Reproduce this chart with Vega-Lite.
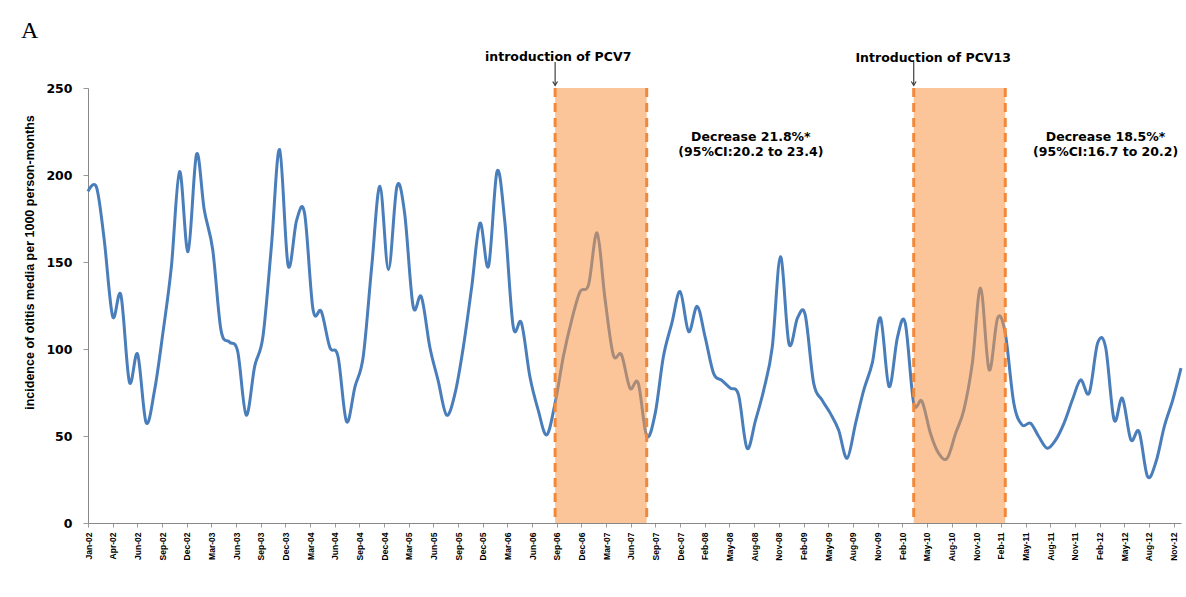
{
  "$schema": "https://vega.github.io/schema/vega-lite/v6.json",
  "autosize": {"type": "none"},
  "padding": {"left": 88, "top": 88, "right": 5, "bottom": 74},
  "width": 1093,
  "height": 435,
  "background": "white",
  "config": {"view": {"stroke": null}, "axis": {"grid": false}, "axisX": {"labelOverlap": false, "tickCount": 200}},
  "title": {"text": "A", "anchor": "start", "frame": "group", "font": "Liberation Serif", "fontSize": 24, "fontWeight": "normal", "color": "black", "offset": 8, "dx": -67},
  "datasets": {
    "series": [
      {"date":"2002-01-01","v":190.6},{"date":"2002-02-01","v":193},{"date":"2002-03-01","v":163},{"date":"2002-04-01","v":118.7},{"date":"2002-05-01","v":131},{"date":"2002-06-01","v":81},{"date":"2002-07-01","v":97},{"date":"2002-08-01","v":57.7},{"date":"2002-09-01","v":76.5},{"date":"2002-10-01","v":109},{"date":"2002-11-01","v":147},{"date":"2002-12-01","v":202},
      {"date":"2003-01-01","v":156},{"date":"2003-02-01","v":212},{"date":"2003-03-01","v":180},{"date":"2003-04-01","v":157},{"date":"2003-05-01","v":111},{"date":"2003-06-01","v":104},{"date":"2003-07-01","v":98.6},{"date":"2003-08-01","v":62},{"date":"2003-09-01","v":90},{"date":"2003-10-01","v":107},{"date":"2003-11-01","v":159},{"date":"2003-12-01","v":214.6},
      {"date":"2004-01-01","v":148},{"date":"2004-02-01","v":174},{"date":"2004-03-01","v":178},{"date":"2004-04-01","v":122.5},{"date":"2004-05-01","v":121.6},{"date":"2004-06-01","v":101},{"date":"2004-07-01","v":95.7},{"date":"2004-08-01","v":58.3},{"date":"2004-09-01","v":78.4},{"date":"2004-10-01","v":95.7},{"date":"2004-11-01","v":147.5},{"date":"2004-12-01","v":193.5},
      {"date":"2005-01-01","v":145.6},{"date":"2005-02-01","v":193.5},{"date":"2005-03-01","v":178},{"date":"2005-04-01","v":124.5},{"date":"2005-05-01","v":130},{"date":"2005-06-01","v":101},{"date":"2005-07-01","v":82},{"date":"2005-08-01","v":62},{"date":"2005-09-01","v":74.6},{"date":"2005-10-01","v":101},{"date":"2005-11-01","v":136},{"date":"2005-12-01","v":172.4},
      {"date":"2006-01-01","v":147.5},{"date":"2006-02-01","v":202},{"date":"2006-03-01","v":174},{"date":"2006-04-01","v":113},{"date":"2006-05-01","v":115},{"date":"2006-06-01","v":84},{"date":"2006-07-01","v":65},{"date":"2006-08-01","v":50.6},{"date":"2006-09-01","v":69},{"date":"2006-10-01","v":95.7},{"date":"2006-11-01","v":117},{"date":"2006-12-01","v":133},
      {"date":"2007-01-01","v":137},{"date":"2007-02-01","v":166.7},{"date":"2007-03-01","v":130},{"date":"2007-04-01","v":96.7},{"date":"2007-05-01","v":96.7},{"date":"2007-06-01","v":77.5},{"date":"2007-07-01","v":80.4},{"date":"2007-08-01","v":50},{"date":"2007-09-01","v":63},{"date":"2007-10-01","v":95.7},{"date":"2007-11-01","v":115},{"date":"2007-12-01","v":133},
      {"date":"2008-01-01","v":110},{"date":"2008-02-01","v":124.5},{"date":"2008-03-01","v":107},{"date":"2008-04-01","v":86},{"date":"2008-05-01","v":82},{"date":"2008-06-01","v":77.5},{"date":"2008-07-01","v":73.6},{"date":"2008-08-01","v":43},{"date":"2008-09-01","v":59},{"date":"2008-10-01","v":76.5},{"date":"2008-11-01","v":101},{"date":"2008-12-01","v":153},
      {"date":"2009-01-01","v":103},{"date":"2009-02-01","v":117.8},{"date":"2009-03-01","v":119.7},{"date":"2009-04-01","v":80.4},{"date":"2009-05-01","v":70.8},{"date":"2009-06-01","v":63},{"date":"2009-07-01","v":53.5},{"date":"2009-08-01","v":37.2},{"date":"2009-09-01","v":57.3},{"date":"2009-10-01","v":76.5},{"date":"2009-11-01","v":92},{"date":"2009-12-01","v":117.8},
      {"date":"2010-01-01","v":78.4},{"date":"2010-02-01","v":107},{"date":"2010-03-01","v":115},{"date":"2010-04-01","v":69},{"date":"2010-05-01","v":70},{"date":"2010-06-01","v":51.6},{"date":"2010-07-01","v":40},{"date":"2010-08-01","v":37.2},{"date":"2010-09-01","v":51.6},{"date":"2010-10-01","v":65},{"date":"2010-11-01","v":92},{"date":"2010-12-01","v":135},
      {"date":"2011-01-01","v":88},{"date":"2011-02-01","v":117.8},{"date":"2011-03-01","v":109},{"date":"2011-04-01","v":69},{"date":"2011-05-01","v":56.4},{"date":"2011-06-01","v":57.3},{"date":"2011-07-01","v":49.7},{"date":"2011-08-01","v":43},{"date":"2011-09-01","v":47.8},{"date":"2011-10-01","v":57.3},{"date":"2011-11-01","v":70.8},{"date":"2011-12-01","v":82.3},
      {"date":"2012-01-01","v":74.6},{"date":"2012-02-01","v":103.4},{"date":"2012-03-01","v":101},{"date":"2012-04-01","v":59.3},{"date":"2012-05-01","v":71.7},{"date":"2012-06-01","v":47.8},{"date":"2012-07-01","v":52.5},{"date":"2012-08-01","v":26.7},{"date":"2012-09-01","v":35.3},{"date":"2012-10-01","v":55.4},{"date":"2012-11-01","v":70.8},{"date":"2012-12-01","v":89}
    ],
    "periods": [
      {"start": "2006-09-01", "end": "2007-08-01", "vaccine": "PCV7"},
      {"start": "2010-04-01", "end": "2011-03-01", "vaccine": "PCV13"}
    ],
    "notes": [
      {"date": "2006-09-12", "y": 268, "label": "introduction of PCV7"},
      {"date": "2010-06-11", "y": 267, "label": "Introduction of PCV13"},
      {"date": "2008-08-15", "y": 222, "label": "Decrease 21.8%*"},
      {"date": "2008-08-15", "y": 213, "label": "(95%CI:20.2 to 23.4)"},
      {"date": "2012-03-01", "y": 222, "label": "Decrease 18.5%*"},
      {"date": "2012-03-01", "y": 213, "label": "(95%CI:16.7 to 20.2)"}
    ]
  },
  "layer": [
    {
      "data": {"name": "series"},
      "mark": {"type": "line", "interpolate": "cardinal", "color": "#4A7EBB", "strokeWidth": 3},
      "encoding": {
        "x": {
          "field": "date", "type": "temporal", "title": null,
          "scale": {"type": "utc", "domain": [{"year": 2002, "month": 1, "date": 1, "utc": true}, {"year": 2012, "month": 12, "date": 1, "utc": true}]},
          "axis": {
            "title": null,
            "tickCount": 200,
            "values": [
              {"year":2002,"month":1,"date":1,"utc":true},{"year":2002,"month":4,"date":1,"utc":true},{"year":2002,"month":6,"date":30,"utc":true},{"year":2002,"month":9,"date":28,"utc":true},{"year":2002,"month":12,"date":27,"utc":true},
              {"year":2003,"month":3,"date":27,"utc":true},{"year":2003,"month":6,"date":25,"utc":true},{"year":2003,"month":9,"date":23,"utc":true},{"year":2003,"month":12,"date":22,"utc":true},
              {"year":2004,"month":3,"date":21,"utc":true},{"year":2004,"month":6,"date":19,"utc":true},{"year":2004,"month":9,"date":17,"utc":true},{"year":2004,"month":12,"date":16,"utc":true},
              {"year":2005,"month":3,"date":16,"utc":true},{"year":2005,"month":6,"date":14,"utc":true},{"year":2005,"month":9,"date":12,"utc":true},{"year":2005,"month":12,"date":11,"utc":true},
              {"year":2006,"month":3,"date":11,"utc":true},{"year":2006,"month":6,"date":9,"utc":true},{"year":2006,"month":9,"date":7,"utc":true},{"year":2006,"month":12,"date":6,"utc":true},
              {"year":2007,"month":3,"date":6,"utc":true},{"year":2007,"month":6,"date":4,"utc":true},{"year":2007,"month":9,"date":2,"utc":true},{"year":2007,"month":12,"date":1,"utc":true},
              {"year":2008,"month":2,"date":29,"utc":true},{"year":2008,"month":5,"date":29,"utc":true},{"year":2008,"month":8,"date":27,"utc":true},{"year":2008,"month":11,"date":25,"utc":true},
              {"year":2009,"month":2,"date":23,"utc":true},{"year":2009,"month":5,"date":24,"utc":true},{"year":2009,"month":8,"date":22,"utc":true},{"year":2009,"month":11,"date":20,"utc":true},
              {"year":2010,"month":2,"date":18,"utc":true},{"year":2010,"month":5,"date":19,"utc":true},{"year":2010,"month":8,"date":17,"utc":true},{"year":2010,"month":11,"date":15,"utc":true},
              {"year":2011,"month":2,"date":13,"utc":true},{"year":2011,"month":5,"date":14,"utc":true},{"year":2011,"month":8,"date":12,"utc":true},{"year":2011,"month":11,"date":10,"utc":true},
              {"year":2012,"month":2,"date":8,"utc":true},{"year":2012,"month":5,"date":8,"utc":true},{"year":2012,"month":8,"date":6,"utc":true},{"year":2012,"month":11,"date":4,"utc":true}
            ],
            "format": "%b-%y",
            "labelAngle": -90,
            "labelFont": "Liberation Sans",
            "labelFontWeight": "bold",
            "labelFontSize": 8.5,
            "labelColor": "black",
            "labelPadding": 5,
            "labelOverlap": false,
            "labelFlush": false,
            "labelBound": false,
            "domainColor": "#888888",
            "tickColor": "#999999",
            "tickSize": 4
          }
        },
        "y": {
          "field": "v", "type": "quantitative",
          "scale": {"domain": [0, 250], "nice": false, "zero": true},
          "axis": {
            "title": "incidence of otitis media per 1000 person-months",
            "values": [0, 50, 100, 150, 200, 250],
            "labelFont": "DejaVu Sans",
            "labelFontWeight": "bold",
            "labelFontSize": 12.5,
            "labelColor": "black",
            "labelPadding": 11,
            "tickSize": 5,
            "tickColor": "#999999",
            "domainColor": "#888888",
            "titleFont": "Liberation Sans",
            "titleFontSize": 12.5,
            "titleFontWeight": "bold",
            "titleColor": "black",
            "titleAngle": -90,
            "titleAlign": "center",
            "titleBaseline": "alphabetic",
            "titleX": -55,
            "titleY": 174
          }
        }
      }
    },
    {
      "data": {"name": "periods"},
      "mark": {"type": "rect", "color": "#F79646", "opacity": 0.55},
      "encoding": {
        "x": {"field": "start", "type": "temporal", "title": null},
        "x2": {"field": "end"},
        "y": {"datum": 250, "type": "quantitative"},
        "y2": {"datum": 0}
      }
    },
    {
      "data": {"name": "periods"},
      "mark": {"type": "rule", "color": "#F2883A", "strokeWidth": 3, "strokeDash": [9, 6]},
      "encoding": {
        "x": {"field": "start", "type": "temporal", "title": null},
        "y": {"datum": 250, "type": "quantitative"},
        "y2": {"datum": 0}
      }
    },
    {
      "data": {"name": "periods"},
      "mark": {"type": "rule", "color": "#F2883A", "strokeWidth": 3, "strokeDash": [9, 6]},
      "encoding": {
        "x": {"field": "end", "type": "temporal", "title": null},
        "y": {"datum": 250, "type": "quantitative"},
        "y2": {"datum": 0}
      }
    },
    {
      "data": {"name": "periods"},
      "mark": {"type": "rule", "color": "#404040", "strokeWidth": 1.2},
      "encoding": {
        "x": {"field": "start", "type": "temporal", "title": null},
        "y": {"datum": 265, "type": "quantitative"},
        "y2": {"datum": 251.5}
      }
    },
    {
      "data": {"name": "periods"},
      "mark": {"type": "point", "shape": "M-0.8,-1.3L0,0L0.8,-1.3", "filled": false, "color": "#404040", "strokeWidth": 1.2, "size": 36, "opacity": 1},
      "encoding": {
        "x": {"field": "start", "type": "temporal", "title": null},
        "y": {"datum": 251.5, "type": "quantitative"}
      }
    },
    {
      "data": {"name": "notes"},
      "mark": {"type": "text", "font": "DejaVu Sans", "fontWeight": "bold", "fontSize": 12.5, "color": "black", "align": "center", "baseline": "middle"},
      "encoding": {
        "x": {"field": "date", "type": "temporal", "title": null},
        "y": {"field": "y", "type": "quantitative"},
        "text": {"field": "label"}
      }
    }
  ]
}
